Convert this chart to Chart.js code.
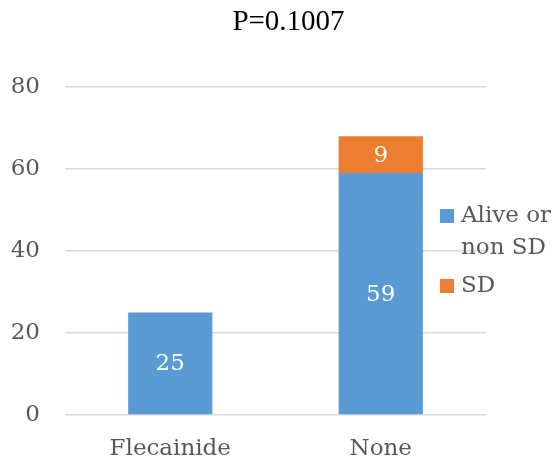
<!DOCTYPE html>
<html>
<head>
<meta charset="utf-8">
<script src="https://cdn.jsdelivr.net/npm/chart.js@4/dist/chart.umd.min.js"></script>
<style>
  html, body { margin: 0; padding: 0; background: #fff; }
  #wrap { width: 557px; height: 462px; position: relative; }
</style>
</head>
<body>
<div id="wrap"><canvas id="c" width="557" height="462"></canvas></div>
<script>
// Chart data
const chartTitle = 'P=0.1007';
const categories = ['Flecainide', 'None'];
const seriesNames = ['Alive or non SD', 'SD'];
const aliveValues = [25, 59];
const sdValues = [null, 9];
const yTicks = [0, 20, 40, 60, 80];

const seriesColors = ['#5B9BD5', '#ED7D31'];
const textColor = '#595959';
const serif = '"DejaVu Serif", serif';

// Value labels in white, centred in each bar segment
const valueLabels = {
  id: 'valueLabels',
  afterDatasetsDraw(chart) {
    const ctx = chart.ctx;
    ctx.save();
    ctx.font = '23px ' + serif;
    ctx.fillStyle = '#ffffff';
    ctx.textAlign = 'center';
    ctx.textBaseline = 'middle';
    chart.data.datasets.forEach((ds, i) => {
      const meta = chart.getDatasetMeta(i);
      meta.data.forEach((el, j) => {
        const v = ds.data[j];
        if (v === null || v === undefined) return;
        const p = el.getProps(['x', 'y', 'base'], true);
        ctx.fillText(String(v), p.x, (p.y + p.base) / 2 + 1);
      });
    });
    ctx.restore();
  }
};

// Title across the top
const topTitle = {
  id: 'topTitle',
  afterDraw(chart) {
    const ctx = chart.ctx;
    ctx.save();
    ctx.font = '29px "Liberation Serif", serif';
    ctx.fillStyle = '#000000';
    ctx.textAlign = 'center';
    ctx.textBaseline = 'middle';
    ctx.fillText(chartTitle, chart.width / 2 + 10, 22);
    ctx.restore();
  }
};

// Legend on the right, with wrapped labels
const sideLegend = {
  id: 'sideLegend',
  afterDraw(chart) {
    const ctx = chart.ctx;
    const area = chart.chartArea;
    const boxX = 440, box = 14, textX = 461;
    const maxW = chart.width - textX;
    const lineH = 32, gap = 6;
    ctx.save();
    ctx.font = '23px ' + serif;
    const items = chart.data.datasets.map(ds => {
      const words = ds.label.split(' ');
      const lines = [];
      let cur = '';
      words.forEach(w => {
        const t = cur ? cur + ' ' + w : w;
        if (cur && ctx.measureText(t).width > maxW) { lines.push(cur); cur = w; }
        else cur = t;
      });
      if (cur) lines.push(cur);
      return { lines, color: ds.backgroundColor };
    });
    let total = 0;
    items.forEach((it, i) => { total += it.lines.length * lineH + (i ? gap : 0); });
    let y = (area.top + area.bottom) / 2 - total / 2;
    ctx.textAlign = 'left';
    ctx.textBaseline = 'middle';
    items.forEach(it => {
      ctx.fillStyle = it.color;
      ctx.fillRect(boxX, y + lineH / 2 - box / 2, box, box);
      ctx.fillStyle = textColor;
      it.lines.forEach((ln, k) => {
        ctx.fillText(ln, textX, y + lineH / 2 + k * lineH);
      });
      y += it.lines.length * lineH + gap;
    });
    ctx.restore();
  }
};

new Chart(document.getElementById('c'), {
  type: 'bar',
  data: {
    labels: categories,
    datasets: [
      { label: seriesNames[0], data: aliveValues, backgroundColor: seriesColors[0],
        barPercentage: 0.4, categoryPercentage: 1.0 },
      { label: seriesNames[1], data: sdValues, backgroundColor: seriesColors[1],
        barPercentage: 0.4, categoryPercentage: 1.0 }
    ]
  },
  options: {
    responsive: false,
    animation: false,
    devicePixelRatio: 1,
    layout: { padding: { top: 87, right: 71, left: 0, bottom: 0 } },
    plugins: {
      legend: { display: false },
      title: { display: false },
      tooltip: { enabled: false }
    },
    scales: {
      x: {
        stacked: true,
        grid: { display: false, drawTicks: false },
        border: { display: false },
        ticks: { color: textColor, font: { family: serif, size: 23 }, padding: 20 },
        afterFit(scale) { scale.height = 47; }
      },
      y: {
        stacked: true,
        min: yTicks[0],
        max: yTicks[yTicks.length - 1],
        afterBuildTicks(scale) { scale.ticks = yTicks.map(v => ({ value: v })); },
        grid: { color: '#d9d9d9', lineWidth: 1.5, drawTicks: false },
        border: { display: false },
        ticks: { color: textColor, font: { family: serif, size: 23 }, padding: 25 },
        afterFit(scale) { scale.width = 65; }
      }
    }
  },
  plugins: [valueLabels, topTitle, sideLegend]
});
</script>
</body>
</html>
